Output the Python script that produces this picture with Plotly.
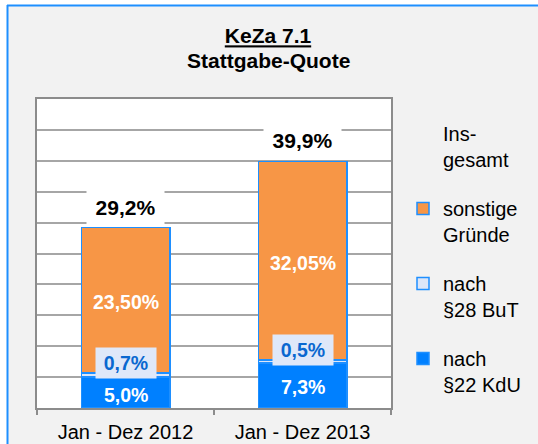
import plotly.graph_objects as go

# ---- data ----
categories = ["Jan - Dez 2012", "Jan - Dez 2013"]
kdu = [5.0, 7.3]            # nach §22 KdU
but = [0.7, 0.5]            # nach §28 BuT
sonstige = [23.5, 32.05]    # sonstige Gründe
totals = [29.2, 39.9]       # Insgesamt
kdu_labels = ["5,0%", "7,3%"]
but_labels = ["0,7%", "0,5%"]
sonstige_labels = ["23,50%", "32,05%"]
total_labels = ["29,2%", "39,9%"]
series_names = ["nach<br>§22 KdU", "nach<br>§28 BuT", "sonstige<br>Gründe", "Ins-<br>gesamt"]

FONT = "Liberation Sans, Arial, sans-serif"
ORANGE = "#F79646"
LIGHT = "#DCE6F8"
BLUE = "#0080FF"
EDGE = "#1E8FFF"

W, H = 538, 444
L, R, T, B = 37, 391, 99, 408


def px_x(px):
    return (px - L) / (R - L)


def px_y(py):
    return (B - py) / (B - T)


fig = go.Figure()
fig.add_trace(go.Bar(
    x=categories, y=kdu, name=series_names[0], legendgroup="kdu", legendrank=4,
    marker=dict(color=BLUE, line=dict(color=EDGE, width=1.5)),
    width=0.5, hoverinfo="skip"))
fig.add_trace(go.Bar(
    x=categories, y=but, name=series_names[1], legendgroup="but", legendrank=3,
    marker=dict(color=LIGHT, line=dict(color=EDGE, width=1.5)),
    width=0.5, hoverinfo="skip"))
fig.add_trace(go.Bar(
    x=categories, y=sonstige, name=series_names[2], legendgroup="sonst", legendrank=2,
    marker=dict(color=ORANGE, line=dict(color=EDGE, width=1.5)),
    width=0.5, hoverinfo="skip"))
fig.add_trace(go.Scatter(
    x=categories, y=totals, name=series_names[3], legendgroup="total", legendrank=1,
    mode="markers", marker=dict(color="rgba(0,0,0,0)", size=1),
    hoverinfo="skip"))

annotations = []
for i, c in enumerate(categories):
    # total label with white box
    annotations.append(dict(
        x=c, y=totals[i], xref="x", yref="y", text="<b>%s</b>" % total_labels[i],
        showarrow=False, yanchor="bottom", yshift=2, bgcolor="white",
        width=65, borderpad=6,
        font=dict(size=21, color="black", family=FONT)))
    # §28 BuT label above its thin segment
    annotations.append(dict(
        x=c, y=kdu[i] + but[i], xref="x", yref="y", text="<b>%s</b>" % but_labels[i],
        showarrow=False, yanchor="bottom", yshift=-6, bgcolor="#DFE8F9",
        width=52, borderpad=4,
        font=dict(size=19.5, color="#0A68D0", family=FONT)))
    # §22 KdU label in the middle of its segment
    annotations.append(dict(
        x=c, y=kdu[i] / 2, xref="x", yref="y", text="<b>%s</b>" % kdu_labels[i],
        showarrow=False, yanchor="middle", yshift=-2,
        font=dict(size=19.5, color="white", family=FONT)))
    # sonstige label in the middle of its segment
    annotations.append(dict(
        x=c, y=kdu[i] + but[i] + sonstige[i] / 2, xref="x", yref="y",
        text="<b>%s</b>" % sonstige_labels[i],
        showarrow=False, yanchor="middle", yshift=-2,
        font=dict(size=19.5, color="white", family=FONT)))

annotations.append(dict(
    x=px_x(268), y=px_y(61), xref="paper", yref="paper",
    text="<b>Stattgabe-Quote</b>", showarrow=False, xanchor="center", yanchor="middle",
    font=dict(size=21, color="black", family=FONT)))

shapes = [
    dict(type="rect", xref="paper", yref="paper", x0=px_x(-5), x1=px_x(7), y0=px_y(460), y1=px_y(-5),
         fillcolor="white", line=dict(width=0), layer="above"),
    dict(type="rect", xref="paper", yref="paper", x0=px_x(-5), x1=px_x(545), y0=px_y(5), y1=px_y(-5),
         fillcolor="white", line=dict(width=0), layer="above"),
    dict(type="line", xref="paper", yref="paper", x0=px_x(7.5), x1=px_x(7.5), y0=px_y(460), y1=px_y(5),
         line=dict(color=EDGE, width=2), layer="above"),
    dict(type="line", xref="paper", yref="paper", x0=px_x(7), x1=px_x(545), y0=px_y(5.5), y1=px_y(5.5),
         line=dict(color=EDGE, width=2), layer="above"),
]

fig.update_layout(
    width=W, height=H,
    margin=dict(l=L, r=W - R, t=T, b=H - B, pad=0, autoexpand=False),
    paper_bgcolor="#F2F2F2", plot_bgcolor="white",
    barmode="stack", bargap=0.5,
    font=dict(family=FONT, color="black", size=20),
    title=dict(text="<b><u>KeZa 7.1</u></b>", x=268 / W, xanchor="center",
               xref="container", yref="container", y=1 - 36 / H, yanchor="middle",
               font=dict(size=21, family=FONT, color="black")),
    showlegend=True,
    legend=dict(x=px_x(403), y=px_y(114), xanchor="left", yanchor="top",
                traceorder="grouped", tracegroupgap=20, valign="top",
                bgcolor="rgba(0,0,0,0)", borderwidth=0,
                font=dict(size=20, family=FONT, color="black")),
    annotations=annotations,
    shapes=shapes,
)
fig.update_xaxes(showgrid=False, showline=True, linecolor="#8C8C8C", linewidth=2, mirror=True,
                 ticks="outside", tickson="boundaries", ticklen=5, tickcolor="#8C8C8C",
                 tickwidth=1.5, ticklabelstandoff=5, automargin=False,
                 tickfont=dict(size=20, family=FONT, color="black"))
fig.update_yaxes(range=[0, 50], dtick=5, showticklabels=False, showgrid=True,
                 gridcolor="#A6A6A6", gridwidth=2, showline=True, linecolor="#8C8C8C",
                 linewidth=2, mirror=True, zeroline=False, ticks="", automargin=False)

fig.write_html("out.html", config={"displayModeBar": False},
               post_script="document.body.style.margin='0px';document.body.style.overflow='hidden';")
